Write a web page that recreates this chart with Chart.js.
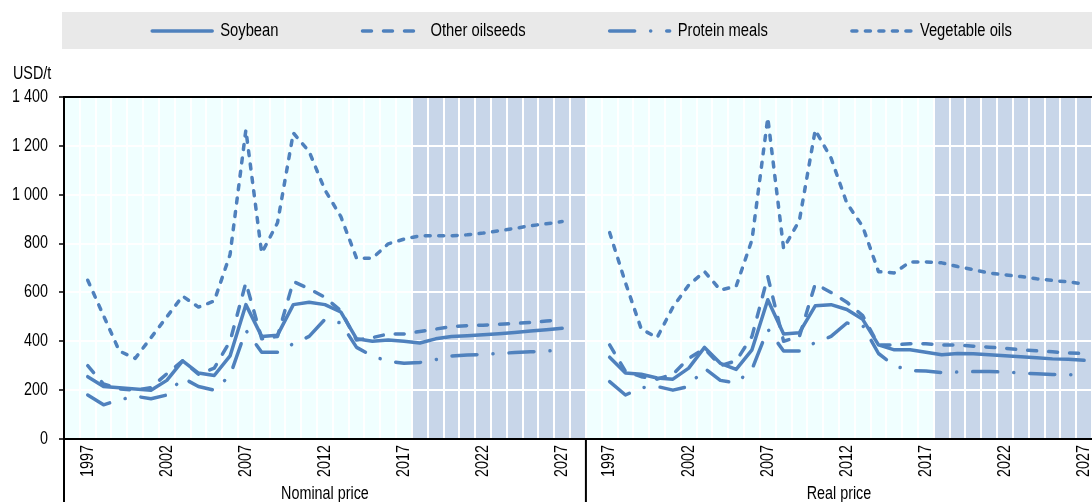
<!DOCTYPE html>
<html>
<head>
<meta charset="utf-8">
<style>
  html, body { margin: 0; padding: 0; background: #fff; }
  #wrap { width: 1092px; height: 502px; }
</style>
<script src="https://cdn.jsdelivr.net/npm/chart.js"></script>
</head>
<body>
<div id="wrap"><canvas id="chart" width="1092" height="502"></canvas></div>
<script>
// years shown in each panel
const years = [1997, 1998, 1999, 2000, 2001, 2002, 2003, 2004, 2005, 2006,
               2007, 2008, 2009, 2010, 2011, 2012, 2013, 2014, 2015, 2016,
               2017, 2018, 2019, 2020, 2021, 2022, 2023, 2024, 2025, 2026, 2027];
const firstProjectionYear = 2018;
const panelNames = ['Nominal price', 'Real price'];
const unitLabel = 'USD/t';
const yTicks = [0, 200, 400, 600, 800, 1000, 1200, 1400];

// nominal prices, USD/t
const soybeanNominal = [255, 215, 210, 205, 200, 240, 320, 270, 260, 340,
                        550, 420, 425, 550, 560, 550, 520, 410, 400, 405,
                        400, 393, 410, 420, 423, 427, 431, 436, 442, 447, 453];
const otherOilseedsNominal = [300, 225, 205, 200, 210, 267, 320, 265, 290, 400,
                              640, 410, 420, 645, 615, 580, 525, 405, 415, 430,
                              430, 440, 450, 460, 464, 466, 470, 473, 477, 483, 488];
const proteinMealsNominal = [180, 140, 160, 175, 165, 180, 250, 215, 200, 260,
                             445, 355, 355, 390, 420, 490, 475, 375, 340, 318,
                             310, 313, 325, 340, 344, 346, 350, 354, 357, 360, 365];
const vegetableOilsNominal = [650, 505, 360, 330, 415, 500, 585, 540, 565, 755,
                              1265, 761, 885, 1253, 1177, 1019, 911, 740, 740, 799,
                              818, 832, 832, 832, 836, 843, 852, 862, 873, 881, 890];

// real prices, USD/t
const soybeanReal = [335, 270, 265, 250, 245, 290, 375, 310, 285, 365,
                     570, 430, 435, 545, 550, 530, 490, 385, 365, 365,
                     355, 345, 350, 349, 345, 341, 337, 333, 328, 326, 322];
const otherOilseedsReal = [385, 277, 255, 245, 265, 330, 370, 300, 320, 420,
                           665, 400, 420, 635, 600, 560, 505, 385, 385, 390,
                           390, 385, 385, 380, 376, 371, 365, 361, 357, 352, 350];
const proteinMealsReal = [235, 180, 210, 215, 200, 215, 290, 240, 230, 285,
                          450, 360, 360, 395, 420, 475, 465, 350, 300, 280,
                          278, 272, 274, 276, 276, 274, 270, 267, 264, 263, 262];
const vegetableOilsReal = [845, 640, 450, 415, 540, 630, 685, 610, 625, 815,
                           1315, 780, 895, 1265, 1150, 965, 870, 685, 680, 725,
                           725, 721, 706, 693, 679, 672, 665, 656, 649, 643, 635];

// the original uses a narrow face; squeeze a normal one if it is missing
function hasFont(name) {
    const c = document.createElement('canvas').getContext('2d');
    const s = 'Other oilseeds 1 400';
    c.font = '40px monospace';
    const base = c.measureText(s).width;
    c.font = '40px "' + name + '", monospace';
    return c.measureText(s).width !== base;
}
const narrow = hasFont('Liberation Sans Narrow');
const fontFamily = narrow
    ? '"Liberation Sans Narrow", "Liberation Sans", Arial, sans-serif'
    : '"Liberation Sans", Arial, sans-serif';
const squeeze = narrow ? 1 : 0.82;
const fontSize = 17.5;
const legendFontSize = 18;

function drawText(ctx, text, x, y, size, align, rotate) {
    ctx.save();
    ctx.translate(x, y);
    if (rotate) ctx.rotate(rotate);
    ctx.scale(squeeze, 1);
    ctx.font = size + 'px ' + fontFamily;
    ctx.textAlign = align;
    ctx.textBaseline = 'middle';
    ctx.fillStyle = '#000';
    ctx.fillText(text, 0, 0);
    ctx.restore();
}

function thousands(v) {
    return String(v).replace(/\B(?=(\d{3})+(?!\d))/g, ' ');
}

// one blank slot before each panel, one after the first
const leftLabels = [''].concat(years.map(String), ['']);
const rightLabels = [''].concat(years.map(String));
const labels = leftLabels.concat(rightLabels);
const panels = [
    { name: panelNames[0], start: 0, end: leftLabels.length - 1 },
    { name: panelNames[1], start: leftLabels.length, end: labels.length - 1 }
];

function joinPanels(nominal, real) {
    return [null].concat(nominal, [null], [null], real);
}

const blue = '#4f81bd';
const seriesDefs = [
    { label: 'Soybean', nominal: soybeanNominal, real: soybeanReal, dash: [] },
    { label: 'Other oilseeds', nominal: otherOilseedsNominal, real: otherOilseedsReal, dash: [9, 12] },
    { label: 'Protein meals', nominal: proteinMealsNominal, real: proteinMealsReal, dash: [25, 16, 0.1, 16] },
    { label: 'Vegetable oils', nominal: vegetableOilsNominal, real: vegetableOilsReal, dash: [5, 8.5] }
];

const datasets = seriesDefs.map(s => ({
    label: s.label,
    data: joinPanels(s.nominal, s.real),
    borderColor: blue,
    backgroundColor: blue,
    borderWidth: 3.5,
    borderDash: s.dash,
    borderCapStyle: 'round',
    borderJoinStyle: 'round',
    pointRadius: 0,
    tension: 0,
    spanGaps: false,
    fill: false
}));

const panelDecor = {
    id: 'panelDecor',
    beforeDraw(chart) {
        const { ctx, chartArea: a, scales: { x } } = chart;
        const slot = a.width / labels.length;
        ctx.save();
        ctx.fillStyle = '#f0ffff';
        ctx.fillRect(a.left, a.top, a.width, a.height);
        ctx.fillStyle = '#c8d6e9';
        panels.forEach(p => {
            const from = p.start + 1 + years.indexOf(firstProjectionYear);
            const x0 = x.getPixelForValue(from) - slot / 2;
            const x1 = x.getPixelForValue(p.end) + slot / 2;
            ctx.fillRect(x0, a.top, x1 - x0, a.height);
        });
        ctx.restore();
    },
    afterDraw(chart) {
        const { ctx, chartArea: a, scales: { x, y } } = chart;
        const slot = a.width / labels.length;
        ctx.save();

        // top frame
        ctx.strokeStyle = '#000';
        ctx.lineWidth = 2;
        ctx.beginPath();
        ctx.moveTo(a.left, a.top);
        ctx.lineTo(a.right, a.top);
        ctx.stroke();

        // y tick labels
        y.ticks.forEach(t => {
            drawText(ctx, thousands(t.value), 48, y.getPixelForValue(t.value), fontSize, 'right');
        });

        // x tick labels, every fifth year
        labels.forEach((l, i) => {
            if (l === '' || (Number(l) - years[0]) % 5 !== 0) return;
            drawText(ctx, l, x.getPixelForValue(i), a.bottom + 6, fontSize, 'right', -Math.PI / 2);
        });

        // panel separators under the axis and panel names
        panels.forEach(p => {
            const x0 = x.getPixelForValue(p.start) - slot / 2;
            const x1 = x.getPixelForValue(p.end) + slot / 2;
            ctx.beginPath();
            ctx.moveTo(x0, a.bottom);
            ctx.lineTo(x0, chart.height);
            ctx.stroke();
            drawText(ctx, p.name, (x0 + x1) / 2, 494, fontSize, 'center');
        });

        // unit
        drawText(ctx, unitLabel, 13, 74, fontSize, 'left');

        // legend
        ctx.fillStyle = '#e9e9e9';
        ctx.fillRect(62, 12, chart.width - 62, 37);
        ctx.font = legendFontSize + 'px ' + fontFamily;
        const sample = 64, gap = 6, itemGap = 82;
        const widths = chart.data.datasets.map(d => ctx.measureText(d.label).width * squeeze);
        const total = widths.reduce((s, w) => s + sample + gap + w, 0) + itemGap * (widths.length - 1);
        let lx = 581 - total / 2;
        const ly = 31;
        chart.data.datasets.forEach((d, i) => {
            ctx.strokeStyle = d.borderColor;
            ctx.lineWidth = d.borderWidth;
            ctx.lineCap = 'round';
            ctx.setLineDash(d.borderDash || []);
            ctx.beginPath();
            ctx.moveTo(lx + 2, ly);
            ctx.lineTo(lx + sample - 2, ly);
            ctx.stroke();
            ctx.setLineDash([]);
            drawText(ctx, d.label, lx + sample + gap, ly, legendFontSize, 'left');
            lx += sample + gap + widths[i] + itemGap;
        });
        ctx.restore();
    }
};

new Chart(document.getElementById('chart'), {
    type: 'line',
    data: { labels: labels, datasets: datasets },
    options: {
        responsive: false,
        animation: false,
        layout: { padding: { top: 97, left: 0, right: 0, bottom: 0 } },
        font: { family: fontFamily, size: fontSize },
        plugins: {
            legend: { display: false },
            tooltip: { enabled: false }
        },
        scales: {
            x: {
                type: 'category',
                offset: true,
                grid: { color: '#ffffff', lineWidth: 2, offset: true, drawTicks: false },
                border: { color: '#000', width: 2 },
                ticks: { display: false, autoSkip: false },
                afterFit(scale) {
                    scale.height = 63;
                    scale.paddingLeft = 0;
                    scale.paddingRight = 0;
                }
            },
            y: {
                min: yTicks[0],
                max: yTicks[yTicks.length - 1],
                afterBuildTicks(scale) {
                    scale.ticks = yTicks.map(v => ({ value: v }));
                },
                grid: { color: '#ffffff', lineWidth: 2, tickColor: '#000', tickLength: 5, tickWidth: 1.5 },
                border: { color: '#000', width: 2 },
                ticks: { display: false },
                afterFit(scale) {
                    scale.width = 64;
                    scale.paddingTop = 0;
                    scale.paddingBottom = 0;
                }
            }
        }
    },
    plugins: [panelDecor]
});
</script>
</body>
</html>
